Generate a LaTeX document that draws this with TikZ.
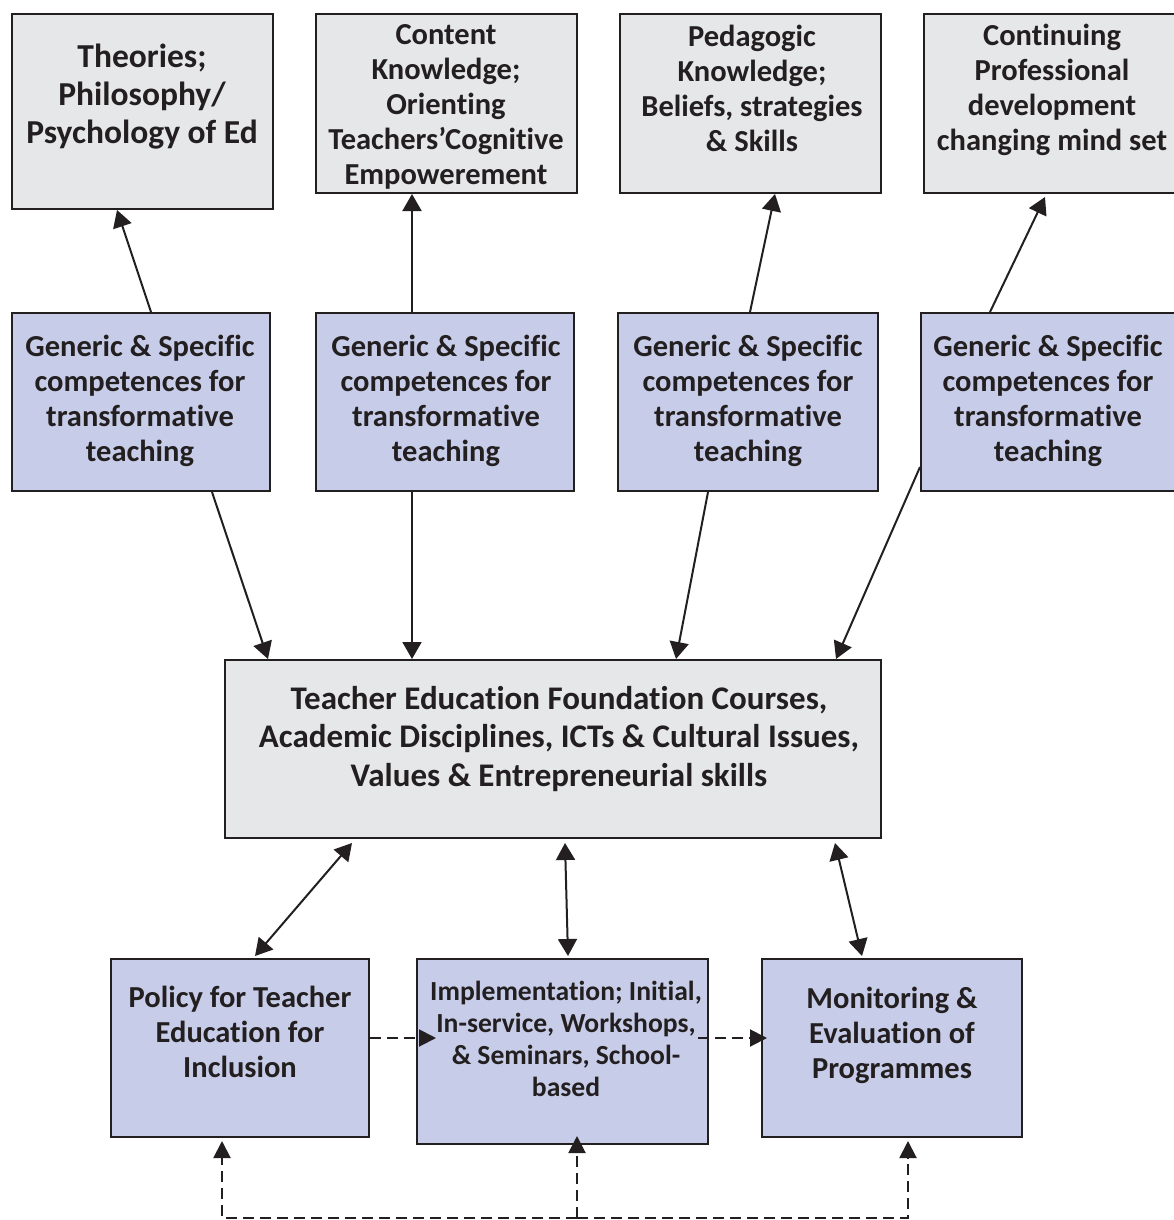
\documentclass[tikz,border=0pt]{standalone}
\usepackage{fontspec}
\setmainfont{Carlito}[Ligatures={NoCommon}]
\usetikzlibrary{arrows.meta}
\definecolor{ink}{HTML}{231F20}
\definecolor{greyfill}{HTML}{E6E7E8}
\definecolor{bluefill}{HTML}{C7CDE8}
\tikzset{
  boxbase/.style={draw=ink, line width=2pt, inner sep=0pt},
  greybox/.style={boxbase, fill=greyfill},
  bluebox/.style={boxbase, fill=bluefill},
  txt/.style={align=center, text=ink, font=\bfseries\fontsize{30.5}{35}\selectfont, inner sep=0pt},
  txtbig/.style={txt, font=\bfseries\fontsize{33.5}{38}\selectfont},
  txtctr/.style={txt, font=\bfseries\fontsize{33}{38.5}\selectfont},
  txtsmall/.style={txt, font=\bfseries\fontsize{27.6}{32}\selectfont},
  arr/.style={draw=ink, line width=2pt, -{Triangle[length=17pt,width=19pt]}},
  darr/.style={draw=ink, line width=2pt, {Triangle[length=17pt,width=19pt]}-{Triangle[length=17pt,width=19pt]}},
  dasharr/.style={draw=ink, line width=2pt, dash pattern=on 11pt off 6pt, -{Triangle[length=17pt,width=17pt]}},
}
\begin{document}
\begin{tikzpicture}[x=1pt,y=-1pt]
\useasboundingbox (0,0) rectangle (1173,1220);
% top boxes
\node[greybox, minimum width=261, minimum height=195] (t1) at (142.5,111.5) {};
\node[greybox, minimum width=261, minimum height=179] (t2) at (446.5,103.5) {};
\node[greybox, minimum width=261, minimum height=179] (t3) at (750.5,103.5) {};
\node[greybox, minimum width=261, minimum height=179] (t4) at (1054.5,103.5) {};
\node[txtbig] (t1t) at (142,97) {Theories;\\Philosophy/\\Psychology of Ed};
\node[txt] (t2t) at (446,107) {Content\\Knowledge;\\Orienting\\Teachers’Cognitive\\Empowerement};
\node[txt] (t3t) at (752,88) {Pedagogic\\Knowledge;\\Beliefs, strategies\\\& Skills};
\node[txt] (t4t) at (1052,89.5) {Continuing\\Professional\\development\\changing mind set};
% generic boxes
\node[bluebox, minimum width=258, minimum height=178] (g1) at (141,402) {};
\node[bluebox, minimum width=258, minimum height=178] (g2) at (445,402) {};
\node[bluebox, minimum width=260, minimum height=178] (g3) at (748,402) {};
\node[bluebox, minimum width=258, minimum height=178] (g4) at (1050,402) {};
\node[txt] (g1t) at (140,401) {Generic \& Specific\\competences for\\transformative\\teaching};
\node[txt] (g2t) at (446,401) {Generic \& Specific\\competences for\\transformative\\teaching};
\node[txt] (g3t) at (748,401) {Generic \& Specific\\competences for\\transformative\\teaching};
\node[txt] (g4t) at (1048,401) {Generic \& Specific\\competences for\\transformative\\teaching};
% centre box
\node[greybox, minimum width=656, minimum height=178] (c) at (553,749) {};
\node[txtctr] (ct) at (559,739) {Teacher Education Foundation Courses,\\Academic Disciplines, ICTs \& Cultural Issues,\\Values \& Entrepreneurial skills};
% bottom boxes
\node[bluebox, minimum width=258, minimum height=178] (p) at (240,1048) {};
\node[bluebox, minimum width=291, minimum height=185] (i) at (562.5,1051.5) {};
\node[bluebox, minimum width=260, minimum height=178] (m) at (892,1048) {};
\node[txt] (pt) at (240,1032) {Policy for Teacher\\Education for\\Inclusion};
\node[txtsmall] (it) at (566,1039) {Implementation; Initial,\\In-service, Workshops,\\\& Seminars, School-\\based};
\node[txt] (mt) at (892,1035) {Monitoring \&\\Evaluation of\\Programmes};
% arrows generic -> top
\draw[arr] ([xshift=10]g1.north) -- ([xshift=-25.5]t1.south);
\draw[arr] ([xshift=-33]g2.north) -- ([xshift=-34.5]t2.south);
\draw[arr] ([xshift=2]g3.north) -- ([xshift=24.5]t3.south);
\draw[arr] ([xshift=-60]g4.north) -- ([xshift=-9.5,yshift=-3]t4.south);
% arrows generic -> centre
\draw[arr] ([xshift=71]g1.south) -- ([xshift=-285]c.north);
\draw[arr] ([xshift=-33]g2.south) -- ([xshift=-141]c.north);
\draw[arr] ([xshift=-40]g3.south) -- ([xshift=123]c.north);
\draw[arr] ([yshift=-65]g4.west) -- ([xshift=283]c.north);
% centre <-> bottom
\draw[darr] ([xshift=-201,yshift=-4]c.south) -- ([xshift=15,yshift=2]p.north);
\draw[darr] ([xshift=12,yshift=-4]c.south) -- ([xshift=5.5,yshift=2]i.north);
\draw[darr] ([xshift=282,yshift=-4]c.south) -- ([xshift=-30,yshift=2]m.north);
% dashed
\draw[dasharr] ([yshift=10]p.east) -- ([xshift=20,yshift=13.5]i.west);
\draw[dasharr] ([xshift=-11,yshift=13.5]i.east) -- ([xshift=6,yshift=10]m.west);
\coordinate (loop) at (577,1218);
\draw[dasharr] (loop) -| ([xshift=-18,yshift=-3]p.south);
\draw[dasharr] (loop) -- ([xshift=14.5,yshift=9]i.south);
\draw[dasharr] (loop) -| ([xshift=16,yshift=-3]m.south);
\end{tikzpicture}
\end{document}
